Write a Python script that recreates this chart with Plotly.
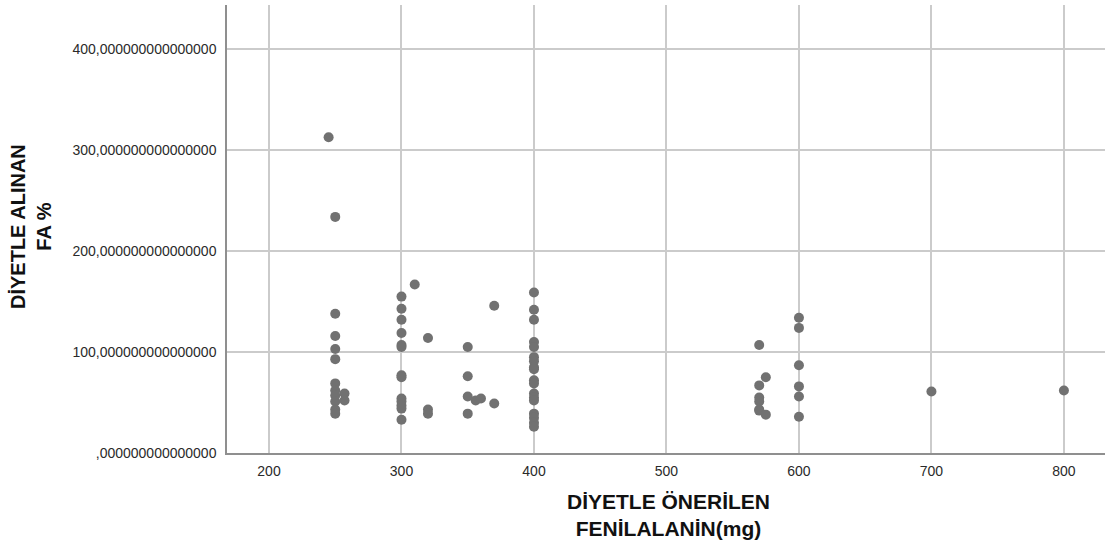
import plotly.graph_objects as go

# Recommended phenylalanine (mg)
x_vals = [245,
          250, 250, 250, 250, 250, 250, 250, 250, 250, 250, 250,
          257, 257,
          300, 300, 300, 300, 300, 300, 300, 300, 300, 300, 300, 300, 300,
          310,
          320, 320, 320,
          350, 350, 350, 350,
          356, 360,
          370, 370,
          400, 400, 400, 400, 400, 400, 400, 400, 400, 400, 400, 400, 400, 400, 400, 400, 400, 400,
          570, 570, 570, 570, 570, 570,
          575, 575,
          600, 600, 600, 600, 600, 600,
          700, 800]
# Phenylalanine intake %
y_vals = [313,
          234, 138, 116, 103, 93, 69, 62, 57, 51, 43, 39,
          59, 52,
          155, 143, 132, 119, 107, 105, 77, 75, 54, 51, 47, 44, 33,
          167,
          114, 43, 39,
          105, 76, 56, 39,
          52, 54,
          146, 49,
          159, 142, 132, 110, 105, 95, 91, 85, 83, 72, 69, 59, 55, 52, 39, 35, 30, 26,
          107, 67, 55, 51, 43, 42,
          75, 38,
          134, 124, 87, 66, 56, 36,
          61, 62]

x_ticks = [200, 300, 400, 500, 600, 700, 800]
y_ticks = [0, 100, 200, 300, 400]
y_ticktext = [",000000000000000", "100,000000000000000", "200,000000000000000",
              "300,000000000000000", "400,000000000000000"]

x_title = "<b>DİYETLE ÖNERİLEN<br>FENİLALANİN(mg)</b>"
y_title = "<b>DİYETLE ALINAN<br>FA %</b>"

FONT = "Liberation Sans, Arial, sans-serif"
L, T, W, H = 227, 5, 878, 448


def px(xp):
    return (xp - L) / W


def py(yp):
    return (T + H - yp) / H


fig = go.Figure()
fig.add_trace(go.Scatter(
    x=x_vals, y=y_vals, mode="markers",
    marker=dict(size=10, color="#717171", line=dict(width=0)),
    showlegend=False, hoverinfo="x+y"))

annotations = [
    dict(text=x_title, xref="paper", yref="paper",
         x=px(668), y=py(515), xanchor="center", yanchor="middle",
         showarrow=False, font=dict(size=21, family=FONT, color="#111111")),
    dict(text=y_title, xref="paper", yref="paper",
         x=px(31), y=py(227), xanchor="center", yanchor="middle",
         textangle=-90, showarrow=False,
         font=dict(size=20, family=FONT, color="#111111")),
]

fig.update_layout(
    width=1105, height=541,
    margin=dict(l=L, r=0, t=T, b=541 - T - H),
    paper_bgcolor="white", plot_bgcolor="white",
    font=dict(family=FONT, color="#222222"),
    xaxis=dict(range=[168.3, 831], tickvals=x_ticks, ticks="",
               showgrid=True, gridcolor="#cbcbcb", gridwidth=1.5,
               showline=True, linecolor="#8f8f8f", linewidth=1.5,
               zeroline=False, tickfont=dict(size=14, family=FONT, color="#2a2a2a"),
               ticklabelstandoff=4),
    yaxis=dict(range=[0, 444], tickvals=y_ticks, ticktext=y_ticktext, ticks="",
               showgrid=True, gridcolor="#cbcbcb", gridwidth=1.5,
               showline=True, linecolor="#8f8f8f", linewidth=1.5,
               zeroline=False, tickfont=dict(size=14, family=FONT, color="#2a2a2a"),
               ticklabelstandoff=6),
    annotations=annotations,
)

fig.write_html("out.html")
